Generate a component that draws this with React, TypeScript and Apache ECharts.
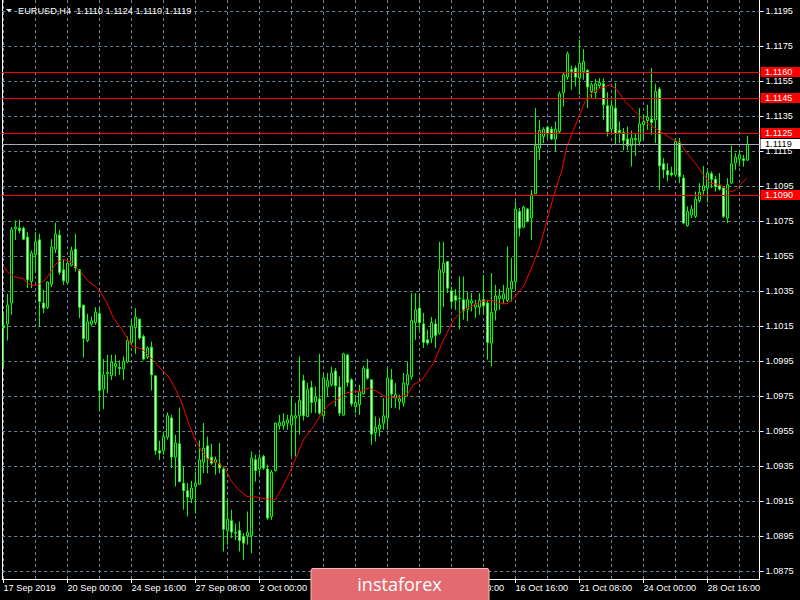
import React, { useEffect, useRef } from "react";
import * as echarts from "echarts";

const SYMBOL = "EURUSD,H4";

// [open, high, low, close] per H4 bar, first bar = 17 Sep 2019 08:00
const OHLC: [number, number, number, number][] = [
  [1.10154, 1.10236, 1.09914, 1.10143],
  [1.10164, 1.10337, 1.1007, 1.10272],
  [1.10284, 1.10718, 1.10217, 1.10703],
  [1.10708, 1.10756, 1.10645, 1.10718],
  [1.10712, 1.1076, 1.10684, 1.10699],
  [1.10712, 1.10721, 1.10645, 1.10649],
  [1.10661, 1.10689, 1.10369, 1.10417],
  [1.10407, 1.10584, 1.10369, 1.10569],
  [1.10561, 1.10689, 1.10464, 1.10634],
  [1.10645, 1.1068, 1.1015, 1.10293],
  [1.10284, 1.1036, 1.10227, 1.10255],
  [1.10259, 1.10407, 1.10249, 1.10404],
  [1.10392, 1.10649, 1.10375, 1.10604],
  [1.10592, 1.10744, 1.10569, 1.10678],
  [1.10672, 1.10703, 1.10445, 1.10459],
  [1.10474, 1.10531, 1.10388, 1.10411],
  [1.10401, 1.10527, 1.10398, 1.10512],
  [1.10499, 1.10607, 1.10493, 1.10583],
  [1.10592, 1.1068, 1.10464, 1.10484],
  [1.10474, 1.10478, 1.10198, 1.10259],
  [1.10272, 1.10272, 1.09973, 1.10081],
  [1.1007, 1.10223, 1.10059, 1.10177],
  [1.10164, 1.10207, 1.1015, 1.10183],
  [1.10173, 1.10261, 1.1016, 1.10232],
  [1.10223, 1.10261, 1.09664, 1.09784],
  [1.09792, 1.09964, 1.09678, 1.09874],
  [1.0988, 1.09988, 1.09769, 1.09887],
  [1.0987, 1.09988, 1.09845, 1.09947],
  [1.09921, 1.09988, 1.09864, 1.09937],
  [1.09916, 1.09956, 1.09874, 1.0991],
  [1.09907, 1.09979, 1.09845, 1.09952],
  [1.09947, 1.10093, 1.09941, 1.1007],
  [1.10059, 1.10188, 1.10055, 1.10154],
  [1.10144, 1.10255, 1.09994, 1.10204],
  [1.10192, 1.10194, 1.10074, 1.10084],
  [1.10093, 1.10103, 1.09956, 1.09964],
  [1.09975, 1.10036, 1.09964, 1.10027],
  [1.10032, 1.10064, 1.09784, 1.09874],
  [1.09868, 1.09868, 1.09417, 1.09441],
  [1.0944, 1.09497, 1.09388, 1.09427],
  [1.0944, 1.0955, 1.09417, 1.09521],
  [1.09518, 1.09659, 1.09503, 1.0964],
  [1.09627, 1.09645, 1.09341, 1.09404],
  [1.09404, 1.09531, 1.09236, 1.09484],
  [1.0948, 1.09687, 1.09259, 1.09264],
  [1.09255, 1.0935, 1.09103, 1.09213],
  [1.09211, 1.09255, 1.09064, 1.09175],
  [1.09165, 1.09268, 1.09141, 1.09227],
  [1.09236, 1.09321, 1.0908, 1.09255],
  [1.09249, 1.09499, 1.09245, 1.09388],
  [1.09375, 1.09598, 1.09312, 1.09455],
  [1.09468, 1.09521, 1.09312, 1.09394],
  [1.09404, 1.0948, 1.0936, 1.09369],
  [1.09373, 1.09407, 1.09303, 1.09388],
  [1.09365, 1.09484, 1.09312, 1.09341],
  [1.09335, 1.0935, 1.08864, 1.08992],
  [1.08984, 1.0916, 1.08903, 1.09049],
  [1.0904, 1.09103, 1.08941, 1.08975],
  [1.08973, 1.09023, 1.08931, 1.08969],
  [1.08984, 1.09036, 1.08864, 1.08927],
  [1.0895, 1.08969, 1.08817, 1.08912],
  [1.08954, 1.09093, 1.08903, 1.08973],
  [1.08954, 1.09436, 1.08855, 1.09398],
  [1.09388, 1.09417, 1.09264, 1.09327],
  [1.09335, 1.09423, 1.09303, 1.09398],
  [1.09407, 1.09417, 1.09331, 1.09341],
  [1.09335, 1.0936, 1.09045, 1.09055],
  [1.09064, 1.09331, 1.09045, 1.09318],
  [1.09327, 1.09601, 1.09321, 1.09598],
  [1.09583, 1.09645, 1.0956, 1.09601],
  [1.09584, 1.09655, 1.0956, 1.09607],
  [1.09598, 1.09645, 1.0956, 1.09617],
  [1.09587, 1.0975, 1.09411, 1.0964],
  [1.09627, 1.09714, 1.09407, 1.0964],
  [1.0964, 1.09979, 1.09531, 1.09727],
  [1.09841, 1.09874, 1.09613, 1.0964],
  [1.09636, 1.09827, 1.09632, 1.09792],
  [1.09801, 1.09841, 1.09655, 1.09716],
  [1.09721, 1.09807, 1.09655, 1.09747],
  [1.09735, 1.09994, 1.09645, 1.09655],
  [1.0964, 1.0988, 1.09617, 1.09855],
  [1.09804, 1.09884, 1.0975, 1.09841],
  [1.09817, 1.09921, 1.09807, 1.09884],
  [1.09895, 1.09912, 1.09693, 1.09811],
  [1.09804, 1.09864, 1.0964, 1.09655],
  [1.09644, 1.1, 1.0964, 1.09994],
  [1.09987, 1.09994, 1.09807, 1.0983],
  [1.09845, 1.09855, 1.09693, 1.09708],
  [1.09693, 1.0976, 1.09655, 1.09716],
  [1.09703, 1.09817, 1.09645, 1.09779],
  [1.09765, 1.09925, 1.0976, 1.09912],
  [1.09907, 1.09964, 1.09845, 1.09855],
  [1.09845, 1.09845, 1.09474, 1.09535],
  [1.09544, 1.09636, 1.09493, 1.09575],
  [1.09564, 1.09627, 1.09521, 1.09587],
  [1.09598, 1.09741, 1.0956, 1.0964],
  [1.09627, 1.09912, 1.0956, 1.09855],
  [1.09845, 1.09907, 1.09684, 1.09764],
  [1.09741, 1.09827, 1.09684, 1.0976],
  [1.09721, 1.0976, 1.09674, 1.09737],
  [1.09712, 1.09884, 1.09693, 1.09827],
  [1.09817, 1.0995, 1.0975, 1.09874],
  [1.09864, 1.10341, 1.09845, 1.10184],
  [1.10173, 1.10341, 1.10074, 1.10245],
  [1.10255, 1.10341, 1.10131, 1.10173],
  [1.10164, 1.10227, 1.10027, 1.10059],
  [1.10074, 1.10131, 1.10045, 1.10055],
  [1.10084, 1.10204, 1.10055, 1.10173],
  [1.10164, 1.10192, 1.10027, 1.10099],
  [1.10112, 1.10634, 1.10103, 1.10474],
  [1.10459, 1.10634, 1.10261, 1.10512],
  [1.10521, 1.10521, 1.10341, 1.10369],
  [1.10354, 1.10379, 1.10255, 1.10293],
  [1.10325, 1.10364, 1.10245, 1.103],
  [1.10312, 1.10436, 1.10135, 1.10308],
  [1.10303, 1.10436, 1.10188, 1.10241],
  [1.10249, 1.1035, 1.10179, 1.10303],
  [1.10284, 1.10341, 1.10236, 1.10297],
  [1.10261, 1.10303, 1.10198, 1.10274],
  [1.10261, 1.10341, 1.10217, 1.10299],
  [1.10303, 1.10445, 1.10217, 1.10268],
  [1.10284, 1.10303, 1.0996, 1.10059],
  [1.10055, 1.10455, 1.09921, 1.1023],
  [1.10241, 1.10388, 1.10184, 1.10325],
  [1.1031, 1.10364, 1.10245, 1.10325],
  [1.10307, 1.10388, 1.10284, 1.10337],
  [1.10299, 1.10607, 1.1029, 1.10369],
  [1.10364, 1.10541, 1.10293, 1.10407],
  [1.10407, 1.10864, 1.1036, 1.10821],
  [1.10807, 1.10827, 1.10664, 1.10712],
  [1.10718, 1.1084, 1.10712, 1.10832],
  [1.10821, 1.10827, 1.10744, 1.1075],
  [1.10769, 1.10931, 1.10645, 1.10903],
  [1.10908, 1.11398, 1.10908, 1.11183],
  [1.11169, 1.11331, 1.11103, 1.1127],
  [1.11236, 1.11289, 1.11198, 1.11278],
  [1.11289, 1.11297, 1.11227, 1.11251],
  [1.11278, 1.11293, 1.11217, 1.11221],
  [1.11221, 1.11321, 1.1115, 1.11278],
  [1.11264, 1.11493, 1.11255, 1.1148],
  [1.11487, 1.11601, 1.11407, 1.11588],
  [1.11575, 1.11721, 1.1156, 1.11708],
  [1.11617, 1.1164, 1.11503, 1.11607],
  [1.11627, 1.1164, 1.11521, 1.11575],
  [1.11569, 1.11788, 1.11474, 1.11655],
  [1.11607, 1.11735, 1.1156, 1.11664],
  [1.11613, 1.11621, 1.11398, 1.11518],
  [1.11493, 1.11544, 1.11455, 1.11531],
  [1.11487, 1.11564, 1.11449, 1.11537],
  [1.11527, 1.11569, 1.11512, 1.11544],
  [1.11537, 1.11569, 1.11331, 1.11417],
  [1.11411, 1.11489, 1.11236, 1.11264],
  [1.11278, 1.11445, 1.11255, 1.11411],
  [1.11398, 1.11541, 1.11188, 1.11255],
  [1.1127, 1.11321, 1.11198, 1.11259],
  [1.11259, 1.11284, 1.11156, 1.11213],
  [1.11221, 1.11293, 1.11156, 1.11183],
  [1.11183, 1.1127, 1.11064, 1.11227],
  [1.11223, 1.11251, 1.11125, 1.11217],
  [1.11207, 1.11398, 1.11183, 1.11308],
  [1.11303, 1.1136, 1.11217, 1.11321],
  [1.11327, 1.11417, 1.11274, 1.11347],
  [1.11335, 1.11627, 1.11245, 1.11316],
  [1.11331, 1.11537, 1.11198, 1.11493],
  [1.11507, 1.11518, 1.10931, 1.11068],
  [1.1108, 1.11112, 1.10998, 1.11045],
  [1.1104, 1.11084, 1.10979, 1.11017],
  [1.11027, 1.11064, 1.11007, 1.11017],
  [1.11017, 1.11227, 1.11007, 1.11207],
  [1.11201, 1.11227, 1.10969, 1.11007],
  [1.10998, 1.11017, 1.10735, 1.10741],
  [1.10727, 1.10836, 1.10721, 1.10807],
  [1.10788, 1.10845, 1.10769, 1.10821],
  [1.10779, 1.10921, 1.10769, 1.10878],
  [1.1087, 1.10969, 1.10859, 1.10916],
  [1.10927, 1.11068, 1.10903, 1.10954],
  [1.10941, 1.11041, 1.10859, 1.11027],
  [1.11023, 1.11036, 1.10941, 1.10992],
  [1.10992, 1.11011, 1.10921, 1.1095],
  [1.10954, 1.11027, 1.10927, 1.10935],
  [1.10941, 1.1095, 1.1077, 1.10779],
  [1.10769, 1.10998, 1.10741, 1.1096],
  [1.10969, 1.11183, 1.10965, 1.1108],
  [1.11084, 1.11141, 1.11045, 1.11118],
  [1.11107, 1.1116, 1.11064, 1.11131],
  [1.11108, 1.11131, 1.11064, 1.11099],
  [1.111, 1.1124, 1.111, 1.1119],
];

// moving average: [bar index, value]
const MA_POINTS: [number, number][] = [
  [0, 1.10493], [1.25, 1.10455], [2.5, 1.10436], [5, 1.10423], [5.85, 1.10398],
  [7.5, 1.10384], [8.75, 1.10388], [10.85, 1.10427], [12.9, 1.10503], [14.6, 1.10535],
  [16.7, 1.10521], [19.2, 1.10464], [21.25, 1.10407], [22.9, 1.10379], [24.2, 1.1035],
  [25.85, 1.10284], [27.5, 1.10198], [30, 1.10121], [32.1, 1.10036], [34.6, 1.10023],
  [37.1, 1.09965], [39.2, 1.09912], [41.25, 1.09864], [42.9, 1.09798], [44.6, 1.09712],
  [46.25, 1.09598], [47.9, 1.09503], [49.6, 1.09436], [51.25, 1.09388], [53.35, 1.09373],
  [55.4, 1.09341], [56.7, 1.09274], [58.75, 1.09217], [60.85, 1.09179], [63.35, 1.09175],
  [65.85, 1.09164], [67.9, 1.0916], [69.6, 1.09227], [71.7, 1.09321], [72.9, 1.09388],
  [75, 1.09503], [77.5, 1.09579], [79.6, 1.09655], [81.25, 1.09703], [83.35, 1.09731],
  [85.85, 1.09773], [89.2, 1.09779], [91.25, 1.09798], [93.35, 1.09779], [95.4, 1.0975],
  [98.35, 1.09741], [100.85, 1.0976], [102.5, 1.09817], [104.6, 1.09845], [107.5, 1.09941],
  [110, 1.10074], [112.5, 1.10188], [115, 1.10245], [117.1, 1.10268], [119.6, 1.10293],
  [122.1, 1.10299], [124.2, 1.1028], [125.85, 1.1028], [127.5, 1.10312], [130, 1.10379],
  [132.5, 1.10512], [134.2, 1.10617], [135, 1.10684], [137.5, 1.10893], [139.6, 1.11045],
  [140.85, 1.11179], [142.5, 1.11274], [144.2, 1.11369], [145.4, 1.11436], [147.1, 1.11484],
  [149.2, 1.11512], [151.7, 1.11531], [153.35, 1.11503], [155.4, 1.11436], [157.5, 1.11388],
  [160.85, 1.11312], [164.2, 1.11264], [166.7, 1.11227], [169.2, 1.11198], [170.85, 1.11141],
  [172.9, 1.11084], [175, 1.11017], [176.7, 1.10969], [179.2, 1.1096], [181.7, 1.10921],
  [182.9, 1.10927], [184.2, 1.1096], [185.85, 1.10998],
];

const Y_TICKS = [
  1.0875, 1.0895, 1.0915, 1.0935, 1.0955, 1.0975, 1.0995, 1.1015, 1.1035,
  1.1055, 1.1075, 1.1095, 1.1115, 1.1135, 1.1155, 1.1175, 1.1195,
];
const X_LABEL_IDX = [0, 16, 32, 48, 64, 80, 96, 112, 128, 144, 160, 176];
const X_LABELS = [
  "17 Sep 2019", "20 Sep 00:00", "24 Sep 16:00", "27 Sep 08:00", "2 Oct 00:00", "4 Oct 16:00",
  "9 Oct 08:00", "14 Oct 00:00", "16 Oct 16:00", "21 Oct 08:00", "24 Oct 00:00", "28 Oct 16:00",
];
const X_GRID = [
  0, 8, 16, 24, 32, 40, 48, 56, 64, 72, 80, 88, 96, 104, 112, 120, 128, 136, 144, 152, 160, 168, 176, 184,
];
const LEVELS = [1.116, 1.1145, 1.1125, 1.109];

const FONT = '"Liberation Sans", Arial, sans-serif';
const FS = 9.2;
const X_MIN = -0.325;
const X_MAX = 189;
const Y_MIN = 1.087071;
const Y_MAX = 1.120157;

export default function App() {
  const ref = useRef<HTMLDivElement>(null);
  useEffect(() => {
    document.body.style.margin = "0";
    document.body.style.background = "#000";
    const chart = echarts.init(ref.current!, null, { renderer: "svg" });
    const last = OHLC[OHLC.length - 1];
    const header =
      SYMBOL + "\u00a0\u00a0" + last.map((v) => v.toFixed(4)).join(" ");
    const gridLine = { color: "#72869a", type: [3, 3], width: 1 };
    const baseGraphic: any[] = [
      {
        id: "tri",
        type: "polygon",
        z: 100,
        shape: { points: [[6, 9], [12, 9], [9, 12]] },
        style: { fill: "#ffffff" },
      },
      {
        id: "hdr",
        type: "text",
        z: 100,
        x: 18,
        y: 11,
        style: {
          text: header,
          fill: "#ffffff",
          font: `${FS}px ${FONT}`,
          verticalAlign: "middle",
        },
      },
      {
        id: "logoRect",
        type: "rect",
        z: 100,
        shape: { x: 311, y: 568.5, width: 178, height: 34, r: 2 },
        style: { fill: "#e36b6f", stroke: "#f2b9bb", lineWidth: 1 },
      },
      {
        id: "logoText",
        type: "text",
        z: 101,
        x: 399.5,
        y: 584,
        style: {
          text: "instaforex",
          fill: "#ffffff",
          font: '18px "Open Sans", sans-serif',
          align: "center",
          verticalAlign: "middle",
        },
      },
    ];
    const option: any = {
      animation: false,
      backgroundColor: "#000000",
      grid: { left: 2.2, right: 40.5, top: 0, bottom: 21 },
      xAxis: {
        type: "value",
        min: X_MIN,
        max: X_MAX,
        axisLine: { show: true, onZero: false, lineStyle: { color: "#ffffff", width: 1 } },
        axisTick: {
          show: true,
          customValues: X_LABEL_IDX,
          length: 4,
          lineStyle: { color: "#ffffff" },
        },
        axisLabel: {
          show: true,
          customValues: X_LABEL_IDX,
          formatter: (v: number) => {
            const k = X_LABEL_IDX.indexOf(Math.round(v));
            return k >= 0 ? X_LABELS[k] : "";
          },
          color: "#ffffff",
          fontSize: FS,
          fontFamily: FONT,
          align: "left",
          margin: 4,
        },
        splitLine: { show: false },
      },
      yAxis: [
        {
          type: "value",
          position: "right",
          min: Y_MIN,
          max: Y_MAX,
          axisLine: { show: true, onZero: false, lineStyle: { color: "#ffffff", width: 1 } },
          axisTick: {
            show: true,
            customValues: Y_TICKS,
            length: 4,
            lineStyle: { color: "#ffffff" },
          },
          axisLabel: {
            show: true,
            customValues: Y_TICKS,
            formatter: (v: number) => v.toFixed(4),
            color: "#ffffff",
            fontSize: FS,
            fontFamily: FONT,
            margin: 6,
          },
          splitLine: { show: false },
        },
        {
          type: "value",
          position: "left",
          min: Y_MIN,
          max: Y_MAX,
          axisLine: { show: true, onZero: false, lineStyle: { color: "#ffffff", width: 1 } },
          axisTick: { show: false },
          axisLabel: { show: false },
          splitLine: { show: false },
        },
      ],
      series: [
        {
          type: "line",
          data: [],
          silent: true,
          z: 1,
          markLine: {
            silent: true,
            z: 1,
            precision: 6,
            symbol: ["none", "none"],
            label: { show: false },
            lineStyle: gridLine,
            data: [
              ...X_GRID.map((x) => ({ xAxis: x })),
              ...Y_TICKS.map((y) => ({ yAxis: y })),
            ],
          },
        },
        {
          type: "candlestick",
          data: OHLC.map(([o, h, l, c], i) => [i, o, c, l, h]),
          barWidth: 2,
          z: 2,
          itemStyle: {
            color: "#000000",
            color0: "#ffffff",
            borderColor: "#00ff00",
            borderColor0: "#00ff00",
            borderWidth: 1,
          },
        },
        {
          type: "line",
          data: MA_POINTS,
          showSymbol: false,
          symbol: "none",
          z: 3,
          lineStyle: { color: "#ff0000", width: 1 },
        },
      ],
      graphic: baseGraphic,
    };
    chart.setOption(option);

    // horizontal level lines, placed through the y axis scale and snapped to whole pixels
    const xl = chart.convertToPixel({ xAxisIndex: 0 }, X_MIN) as number;
    const xr = chart.convertToPixel({ xAxisIndex: 0 }, X_MAX) as number;
    const snap = (v: number) =>
      Math.floor(chart.convertToPixel({ yAxisIndex: 0 }, v) as number) + 0.5;
    const levelGraphic: any[] = [];
    const addLevel = (
      id: string,
      v: number,
      lineColor: string,
      boxColor: string,
      textColor: string
    ) => {
      const y = snap(v);
      levelGraphic.push(
        {
          id: id + "L",
          type: "line",
          z: 50,
          silent: true,
          shape: { x1: xl, y1: y, x2: xr, y2: y },
          style: { stroke: lineColor, lineWidth: 1 },
        },
        {
          id: id + "B",
          type: "rect",
          z: 51,
          silent: true,
          shape: { x: xr + 1, y: y - 5.5, width: 40, height: 10 },
          style: { fill: boxColor },
        },
        {
          id: id + "T",
          type: "text",
          z: 52,
          silent: true,
          x: xr + 5.5,
          y: y - 0.5,
          style: {
            text: v.toFixed(4),
            fill: textColor,
            font: `${FS}px ${FONT}`,
            verticalAlign: "middle",
          },
        }
      );
    };
    LEVELS.forEach((v, i) => addLevel("lvl" + i, v, "#ff0000", "#ff0000", "#ffffff"));
    addLevel("bid", last[3], "#a3acb6", "#ffffff", "#000000");
    chart.setOption({ graphic: [...baseGraphic, ...levelGraphic] });

    return () => chart.dispose();
  }, []);
  return (
    <div
      ref={ref}
      style={{ position: "fixed", left: 0, top: 0, width: 800, height: 600 }}
    />
  );
}
